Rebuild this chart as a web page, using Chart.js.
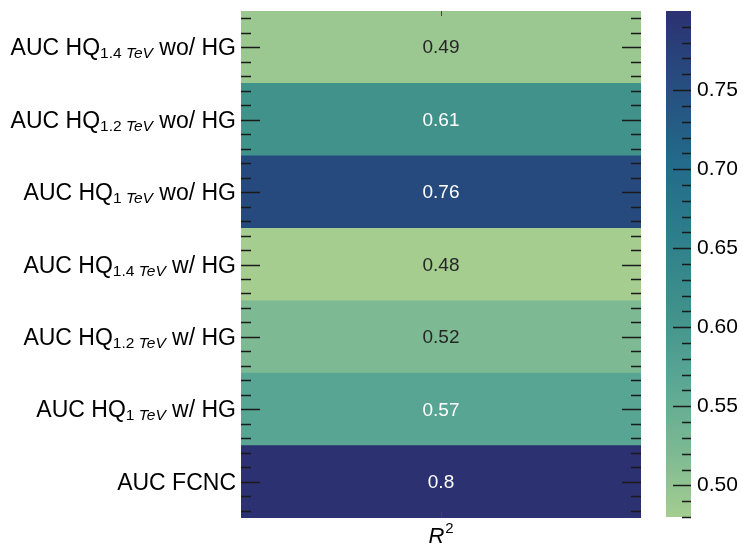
<!DOCTYPE html>
<html>
<head>
<meta charset="utf-8">
<script src="https://cdn.jsdelivr.net/npm/chart.js@4.4.0/dist/chart.umd.min.js"></script>
<style>
  body { margin: 0; background: #fff; }
  #wrap { position: relative; width: 743px; height: 548px; }
  #heat { position: absolute; left: 0; top: 0; }
  #cbar { position: absolute; left: 650px; top: 0; }
</style>
</head>
<body>
<div id="wrap">
  <canvas id="heat" width="650" height="548"></canvas>
  <canvas id="cbar" width="93" height="548"></canvas>
</div>
<script>
// data
var rowLabels = [
  'AUC HQ_{1.4 TeV} wo/ HG',
  'AUC HQ_{1.2 TeV} wo/ HG',
  'AUC HQ_{1 TeV} wo/ HG',
  'AUC HQ_{1.4 TeV} w/ HG',
  'AUC HQ_{1.2 TeV} w/ HG',
  'AUC HQ_{1 TeV} w/ HG',
  'AUC FCNC'
];
var r2Values = [0.49, 0.61, 0.76, 0.48, 0.52, 0.57, 0.8];
var colorbarTicks = [0.50, 0.55, 0.60, 0.65, 0.70, 0.75];
var columnTitle = 'R';

var vmin = Math.min.apply(null, r2Values);
var vmax = Math.max.apply(null, r2Values);

// crest-like colormap stops
var cmap = [
  [0.00, [165, 205, 144]],
  [0.125, [125, 186, 147]],
  [0.28, [88, 165, 148]],
  [0.41, [64, 145, 139]],
  [0.55, [46, 127, 140]],
  [0.70, [35, 106, 139]],
  [0.875, [39, 74, 126]],
  [1.00, [44, 49, 114]]
];

function cmapRGB(t) {
  t = Math.max(0, Math.min(1, t));
  for (var i = 1; i < cmap.length; i++) {
    if (t <= cmap[i][0]) {
      var a = cmap[i - 1], b = cmap[i];
      var f = (t - a[0]) / (b[0] - a[0]);
      return [0, 1, 2].map(function(k) { return Math.round(a[1][k] + f * (b[1][k] - a[1][k])); });
    }
  }
  return cmap[cmap.length - 1][1];
}
function rgbStr(c) { return 'rgb(' + c[0] + ',' + c[1] + ',' + c[2] + ')'; }
function norm(v) { return (v - vmin) / (vmax - vmin); }
function lum(c) {
  var l = c.map(function(x) {
    x = x / 255;
    return x <= 0.03928 ? x / 12.92 : Math.pow((x + 0.055) / 1.055, 2.4);
  });
  return 0.2126 * l[0] + 0.7152 * l[1] + 0.0722 * l[2];
}

var FONT = '"Liberation Sans", Arial, Helvetica, sans-serif';
var TICK_COLOR = '#1a1a1a';

function line(ctx, x1, y1, x2, y2) {
  ctx.beginPath();
  ctx.moveTo(x1, y1);
  ctx.lineTo(x2, y2);
  ctx.stroke();
}

// split "AUC HQ_{1.4 TeV} wo/ HG" into text runs
function labelParts(s) {
  var big = '23px ' + FONT, small = '15.5px ' + FONT;
  var m = s.match(/^(.*?)_\{(.*?)\}(.*)$/);
  if (!m) return [{ t: s, f: big, dy: 0 }];
  var sub = m[2].split(' ');
  var parts = [{ t: m[1], f: big, dy: 0 },
               { t: sub[0], f: small, dy: 3 }];
  if (sub.length > 1) {
    parts.push({ t: ' ', f: small, dy: 3 });
    parts.push({ t: sub.slice(1).join(' '), f: 'italic ' + small, dy: 3 });
  }
  parts.push({ t: m[3], f: big, dy: 0 });
  return parts;
}

var heatDecor = {
  id: 'heatDecor',
  afterDraw: function(chart) {
    var ctx = chart.ctx;
    var xs = chart.scales.x, ys = chart.scales.y;
    var area = chart.chartArea;
    var h = ys.getPixelForValue(1) - ys.getPixelForValue(0);
    var xc = xs.getPixelForValue(0.5);

    ctx.save();
    // annotations
    ctx.textAlign = 'center';
    ctx.textBaseline = 'middle';
    ctx.font = '19px ' + FONT;
    r2Values.forEach(function(v, i) {
      var c = cmapRGB(norm(v));
      ctx.fillStyle = lum(c) > 0.408 ? '#262626' : '#ffffff';
      ctx.fillText(String(v), xc, ys.getPixelForValue(i) + 1);
    });

    // tick marks, inward on both sides
    ctx.strokeStyle = TICK_COLOR;
    ctx.lineWidth = 1.5;
    rowLabels.forEach(function(lab, i) {
      var yc = ys.getPixelForValue(i);
      [-0.4, -0.2, 0, 0.2, 0.4].forEach(function(f) {
        var y = Math.round(yc + f * h) + 0.5;
        var len = f === 0 ? 19 : 10;
        line(ctx, area.left, y, area.left + len, y);
        line(ctx, area.right - len, y, area.right, y);
      });
    });
    ctx.lineWidth = 1;
    ctx.strokeStyle = '#444';
    line(ctx, Math.round(xc) + 0.5, area.top, Math.round(xc) + 0.5, area.top + 5);
    line(ctx, Math.round(xc) + 0.5, area.bottom - 6, Math.round(xc) + 0.5, area.bottom);

    // row labels
    ctx.fillStyle = '#000';
    ctx.textAlign = 'left';
    ctx.textBaseline = 'alphabetic';
    rowLabels.forEach(function(lab, i) {
      var parts = labelParts(lab);
      var total = 0;
      parts.forEach(function(p) { ctx.font = p.f; p.w = ctx.measureText(p.t).width; total += p.w; });
      var x = area.left - 5 - total;
      var base = ys.getPixelForValue(i) + 8;
      parts.forEach(function(p) {
        ctx.font = p.f;
        ctx.fillText(p.t, x, base + p.dy);
        x += p.w;
      });
    });

    // column title R^2
    ctx.font = 'italic 22px ' + FONT;
    var rw = ctx.measureText(columnTitle).width;
    ctx.font = '15px ' + FONT;
    var sw = ctx.measureText('2').width;
    var x0 = xc - (rw + sw + 1) / 2;
    ctx.font = 'italic 22px ' + FONT;
    ctx.fillText(columnTitle, x0, area.bottom + 25);
    ctx.font = '15px ' + FONT;
    ctx.fillText('2', x0 + rw + 1, area.bottom + 15);
    ctx.restore();
  }
};

new Chart(document.getElementById('heat').getContext('2d'), {
  type: 'bar',
  data: {
    labels: rowLabels,
    datasets: [{
      data: r2Values.map(function() { return [0, 1]; }),
      backgroundColor: r2Values.map(function(v) { return rgbStr(cmapRGB(norm(v))); }),
      borderWidth: 0,
      barPercentage: 1,
      categoryPercentage: 1
    }]
  },
  options: {
    indexAxis: 'y',
    responsive: false,
    animation: false,
    devicePixelRatio: 1,
    layout: { padding: { left: 241, right: 9, top: 11, bottom: 30 } },
    scales: {
      x: { type: 'linear', min: 0, max: 1, display: false },
      y: { type: 'category', display: false }
    },
    plugins: { legend: { display: false }, tooltip: { enabled: false } }
  },
  plugins: [heatDecor]
});

var cbarDecor = {
  id: 'cbarDecor',
  afterDatasetsDraw: function(chart) {
    var ctx = chart.ctx;
    var ys = chart.scales.y;
    var area = chart.chartArea;
    ctx.save();
    ctx.strokeStyle = TICK_COLOR;
    ctx.lineWidth = 1.5;
    for (var k = Math.ceil(vmin * 100); k <= Math.floor(vmax * 100); k++) {
      var y = Math.round(ys.getPixelForValue(k / 100)) + 0.5;
      if (y < area.top + 2) continue;
      var len = k % 5 === 0 ? 18 : 9;
      line(ctx, area.right - len, y, area.right, y);
    }
    ctx.restore();
  }
};

new Chart(document.getElementById('cbar').getContext('2d'), {
  type: 'bar',
  data: {
    labels: [''],
    datasets: [{
      data: [[vmin, vmax]],
      backgroundColor: function(c) {
        var ch = c.chart;
        if (!ch.chartArea) return 'rgba(0,0,0,0)';
        var ys = ch.scales.y;
        var g = ch.ctx.createLinearGradient(0, ys.getPixelForValue(vmin), 0, ys.getPixelForValue(vmax));
        cmap.forEach(function(s) { g.addColorStop(s[0], rgbStr(s[1])); });
        return g;
      },
      borderWidth: 0,
      barPercentage: 1,
      categoryPercentage: 1
    }]
  },
  options: {
    responsive: false,
    animation: false,
    devicePixelRatio: 1,
    layout: { padding: { left: 16, right: 0, top: 11, bottom: 31 } },
    scales: {
      x: { display: false },
      y: {
        type: 'linear',
        position: 'right',
        min: vmin,
        max: vmax,
        grid: { display: false, drawTicks: false },
        border: { display: false },
        afterBuildTicks: function(scale) {
          scale.ticks = colorbarTicks.map(function(v) { return { value: v }; });
        },
        afterFit: function(scale) {
          scale.width = 52;
          scale.paddingTop = 0;
          scale.paddingBottom = 0;
        },
        ticks: {
          padding: 6,
          color: '#000',
          font: { family: FONT, size: 21 },
          callback: function(v) { return Number(v).toFixed(2); }
        }
      }
    },
    plugins: { legend: { display: false }, tooltip: { enabled: false } }
  },
  plugins: [cbarDecor]
});
</script>
</body>
</html>
